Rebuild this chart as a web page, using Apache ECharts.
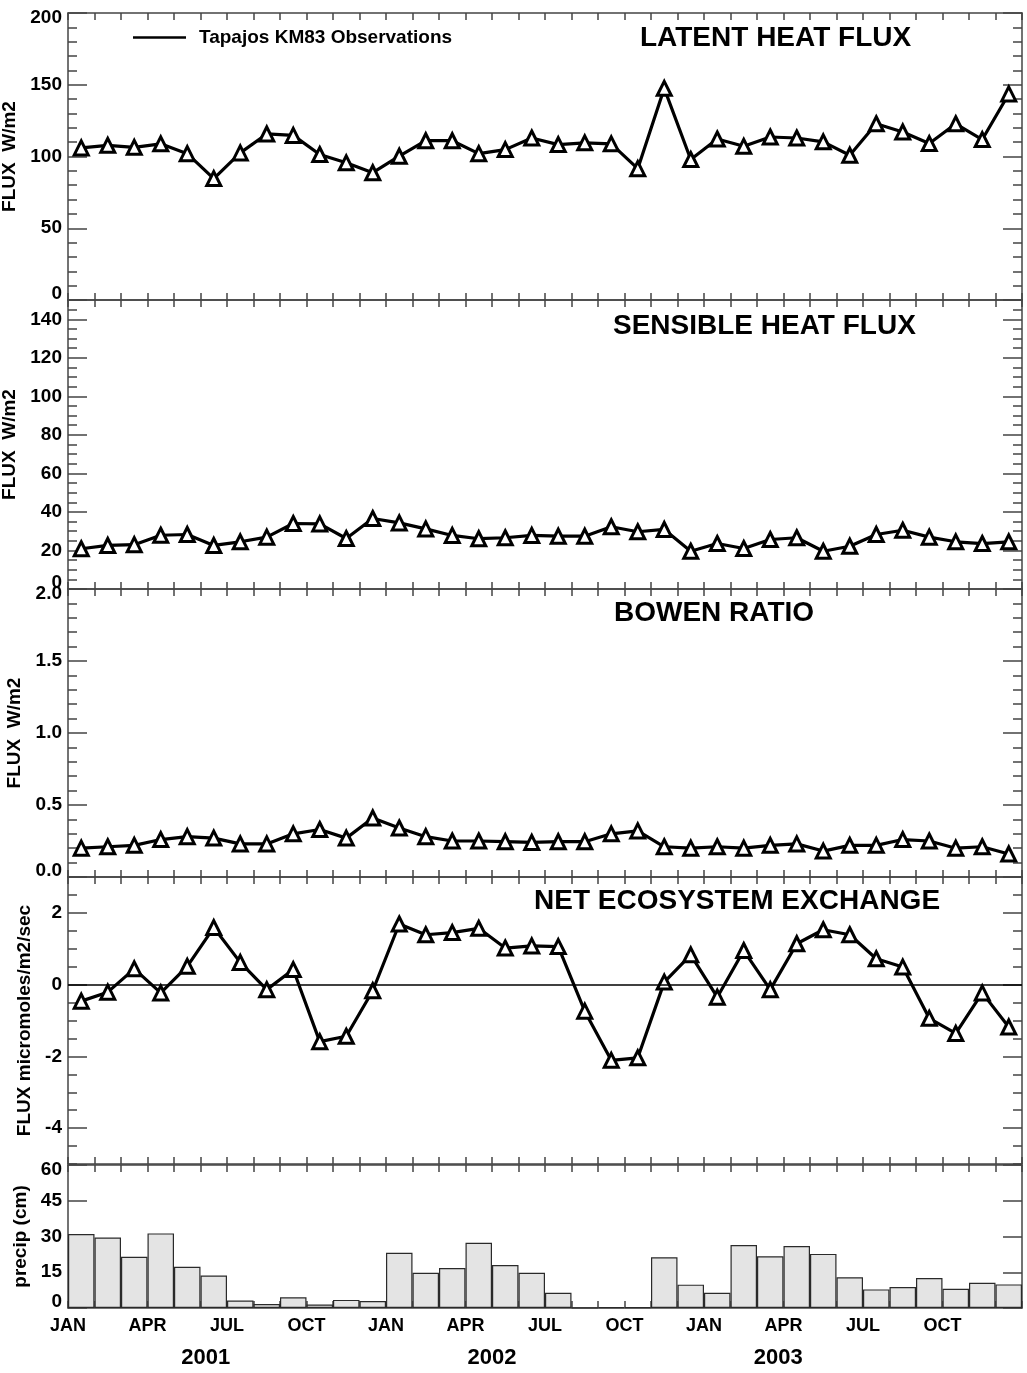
<!DOCTYPE html>
<html>
<head>
<meta charset="utf-8">
<script src="https://cdn.jsdelivr.net/npm/echarts@6/dist/echarts.min.js"></script>
<style>
  html, body { margin: 0; padding: 0; background: #fff; }
  #chart { width: 1027px; height: 1373px; }
</style>
</head>
<body>
<div id="chart"></div>
<script>
// Monthly categories, Jan 2001 - Dec 2003
const months = [
  '2001-01','2001-02','2001-03','2001-04','2001-05','2001-06','2001-07','2001-08','2001-09','2001-10','2001-11','2001-12',
  '2002-01','2002-02','2002-03','2002-04','2002-05','2002-06','2002-07','2002-08','2002-09','2002-10','2002-11','2002-12',
  '2003-01','2003-02','2003-03','2003-04','2003-05','2003-06','2003-07','2003-08','2003-09','2003-10','2003-11','2003-12'
];

// Tapajos KM83 monthly observations
const latentHeat = [106, 107.8, 106.4, 108.8, 102, 84.6, 102.5, 115.7, 114.7, 101.4, 95.6, 88.7,
                    100.2, 111, 111, 102, 104.8, 112.9, 108.3, 109.5, 108.8, 91.5, 147.5, 97.9,
                    112.2, 107.1, 113.6, 112.9, 110.2, 100.9, 122.8, 117.1, 109, 122.8, 111.8, 143.6];
const sensibleHeat = [20.9, 22.6, 23, 27.9, 28.3, 22.6, 24.5, 26.9, 34, 33.8, 26.2, 36.6,
                      34.3, 31.2, 27.8, 26.1, 26.6, 27.8, 27.4, 27.4, 32.3, 29.7, 30.9, 19.6,
                      23.6, 21, 25.7, 26.6, 19.6, 22.2, 28.3, 30.5, 26.9, 24.5, 23.6, 24.5];
const bowenRatio = [0.20, 0.21, 0.22, 0.26, 0.28, 0.27, 0.23, 0.23, 0.30, 0.33, 0.27, 0.41,
                    0.34, 0.28, 0.25, 0.25, 0.245, 0.24, 0.245, 0.245, 0.30, 0.32, 0.21, 0.20,
                    0.21, 0.20, 0.22, 0.23, 0.18, 0.22, 0.22, 0.26, 0.25, 0.20, 0.21, 0.16];
const netEcosystemExchange = [-0.46, -0.21, 0.44, -0.23, 0.51, 1.59, 0.62, -0.14, 0.42, -1.59, -1.44, -0.17,
                              1.69, 1.39, 1.45, 1.57, 1.02, 1.08, 1.06, -0.74, -2.11, -2.04, 0.07, 0.83,
                              -0.35, 0.95, -0.14, 1.14, 1.53, 1.39, 0.72, 0.49, -0.94, -1.36, -0.23, -1.18];
const precipitation = [31.0, 29.6, 21.5, 31.3, 17.3, 13.6, 3.1, 1.7, 4.5, 1.5, 3.4, 2.9,
                       23.2, 14.8, 16.8, 27.4, 18.0, 14.8, 6.4, 0.1, 0.3, 0.3, 21.3, 9.8,
                       6.4, 26.4, 21.7, 26.0, 22.7, 12.9, 7.8, 8.8, 12.6, 8.1, 10.6, 9.9];

// Labelled y ticks for each panel
const latentTicks = [0, 50, 100, 150, 200];
const sensibleTicks = [0, 20, 40, 60, 80, 100, 120, 140];
const bowenTicks = [0, 0.5, 1.0, 1.5, 2.0];
const neeTicks = [-4, -2, 0, 2];
const precipTicks = [0, 15, 30, 45, 60];

// Time axis labels (positions in months from Jan 2001)
const monthLabelPos = [0, 3, 6, 9, 12, 15, 18, 21, 24, 27, 30, 33];
const monthLabelText = ['JAN', 'APR', 'JUL', 'OCT'];
const yearLabelPos = [5.2, 16, 26.8];
const yearLabelText = ['2001', '2002', '2003'];

const legendName = 'Tapajos KM83 Observations';

// ---------------------------------------------------------------
const FONT = '"Liberation Sans", Arial, Helvetica, sans-serif';
const AXIS = '#444';
const axisLineStyle = { color: AXIS, width: 1.5 };

function minorTicks(min, max, step, majors) {
  const out = [];
  const n = Math.round((max - min) / step);
  for (let i = 0; i <= n; i++) {
    const v = +(min + i * step).toFixed(6);
    if (!majors.some(m => Math.abs(m - v) < 1e-9)) out.push(v);
  }
  return out;
}

const panels = [
  { data: latentHeat, kind: 'line', min: 0, max: 200, major: latentTicks, minorStep: 10,
    fmt: v => String(v), name: 'FLUX  W/m2', nameGap: 48,
    title: 'LATENT HEAT FLUX', titleLeft: 640, titleTop: 24, top: 13, height: 287 },
  { data: sensibleHeat, kind: 'line', min: 0, max: 150, major: sensibleTicks, minorStep: 5,
    fmt: v => String(v), name: 'FLUX  W/m2', nameGap: 48,
    title: 'SENSIBLE HEAT FLUX', titleLeft: 613, titleTop: 312, top: 300, height: 289 },
  { data: bowenRatio, kind: 'line', min: 0, max: 2, major: bowenTicks, minorStep: 0.1,
    fmt: v => v.toFixed(1), name: 'FLUX  W/m2', nameGap: 43,
    title: 'BOWEN RATIO', titleLeft: 614, titleTop: 599, top: 589, height: 288 },
  { data: netEcosystemExchange, kind: 'line', min: -5, max: 3, major: neeTicks, minorStep: 0.5,
    fmt: v => String(v), name: 'FLUX micromoles/m2/sec', nameGap: 33, zeroLine: true,
    title: 'NET ECOSYSTEM EXCHANGE', titleLeft: 534, titleTop: 887, top: 877, height: 287 },
  { data: precipitation, kind: 'bar', min: 0, max: 60, major: precipTicks, minorStep: null,
    fmt: v => String(v), name: 'precip (cm)', nameGap: 36,
    title: '', top: 1165, height: 143 }
];

const labelFont = { fontFamily: FONT, fontWeight: 'bold', fontSize: 19, color: '#000' };

const grids = [], xAxes = [], yAxes = [], series = [], titles = [];

panels.forEach((p, gi) => {
  grids.push({ left: 68, right: 5, top: p.top, height: p.height,
               containLabel: false, outerBoundsMode: 'none' });

  const xIndex = xAxes.length;
  ['bottom', 'top'].forEach(pos => {
    xAxes.push({
      type: 'category', gridIndex: gi, position: pos, data: months, boundaryGap: true,
      axisLine: { show: true, onZero: false, lineStyle: axisLineStyle },
      axisTick: { show: true, inside: true, length: 7, interval: 0, lineStyle: axisLineStyle },
      axisLabel: { show: false }, splitLine: { show: false }
    });
  });

  const minors = p.minorStep ? minorTicks(p.min, p.max, p.minorStep, p.major) : [];
  const yIndex = yAxes.length;
  ['left', 'right'].forEach(pos => {
    // labelled axis with long ticks
    yAxes.push({
      type: 'value', gridIndex: gi, position: pos, min: p.min, max: p.max,
      axisLine: { show: true, onZero: false, lineStyle: axisLineStyle },
      axisTick: { show: true, inside: true, length: 19, customValues: p.major, lineStyle: axisLineStyle },
      axisLabel: pos === 'left' ? {
        show: true, customValues: p.major, margin: 6,
        formatter: v => {
          const t = p.fmt(v);
          if (Math.abs(v - p.min) < 1e-9) return '{lo|' + t + '}';
          if (Math.abs(v - p.max) < 1e-9) return '{hi|' + t + '}';
          return '{n|' + t + '}';
        },
        rich: {
          n: labelFont,
          lo: Object.assign({}, labelFont, { padding: [0, 0, 13, 0] }),
          hi: Object.assign({}, labelFont, { padding: [10, 0, 0, 0] })
        }
      } : { show: false },
      splitLine: { show: false },
      name: pos === 'left' ? p.name : '',
      nameLocation: 'middle', nameGap: p.nameGap, nameRotate: 90,
      nameTextStyle: { fontFamily: FONT, fontWeight: 'bold', fontSize: 19, color: '#000' }
    });
    // short ticks
    yAxes.push({
      type: 'value', gridIndex: gi, position: pos, min: p.min, max: p.max,
      axisLine: { show: false },
      axisTick: { show: minors.length > 0, inside: true, length: 9,
                  customValues: minors.length ? minors : [p.min], lineStyle: axisLineStyle },
      axisLabel: { show: false }, splitLine: { show: false }
    });
  });

  if (p.kind === 'line') {
    const s = {
      type: 'line', name: gi === 0 ? legendName : 'series' + gi,
      xAxisIndex: xIndex, yAxisIndex: yIndex, data: p.data,
      symbol: 'triangle', symbolSize: 14, showAllSymbol: true,
      itemStyle: { color: '#fff', borderColor: '#000', borderWidth: 3 },
      lineStyle: { color: '#000', width: 3.2 },
      emphasis: { disabled: true }, z: 3
    };
    if (p.zeroLine) {
      s.markLine = {
        silent: true, symbol: 'none', label: { show: false },
        lineStyle: { color: '#000', width: 1.5, type: 'solid' },
        emphasis: { disabled: true },
        data: [{ yAxis: 0 }]
      };
    }
    series.push(s);
  } else {
    series.push({
      type: 'bar', name: 'precip', xAxisIndex: xIndex, yAxisIndex: yIndex, data: p.data,
      barWidth: '100%', barCategoryGap: '0%',
      itemStyle: { color: '#e4e4e4', borderColor: '#2a2a2a', borderWidth: 1.2 },
      emphasis: { disabled: true }
    });
  }

  if (p.title) {
    titles.push({
      text: p.title, left: p.titleLeft, top: p.titleTop, padding: 0,
      textStyle: { fontFamily: FONT, fontWeight: 'bold', fontSize: 28, color: '#000' }
    });
  }
});

// month and year labels beneath the precipitation panel
const lastGrid = panels.length - 1;
xAxes.push({
  type: 'value', gridIndex: lastGrid, position: 'bottom', min: 0, max: 36,
  axisLine: { show: false }, axisTick: { show: false }, splitLine: { show: false },
  axisLabel: {
    customValues: monthLabelPos, margin: 9,
    formatter: v => monthLabelText[Math.round(v / 3) % 4],
    fontFamily: FONT, fontWeight: 'bold', fontSize: 18, color: '#000'
  }
});
xAxes.push({
  type: 'value', gridIndex: lastGrid, position: 'bottom', min: 0, max: 36,
  axisLine: { show: false }, axisTick: { show: false }, splitLine: { show: false },
  axisLabel: {
    customValues: yearLabelPos, margin: 39,
    formatter: v => yearLabelText[yearLabelPos.findIndex(q => Math.abs(q - v) < 1e-6)],
    fontFamily: FONT, fontWeight: 'bold', fontSize: 22, color: '#000'
  }
});

const chart = echarts.init(document.getElementById('chart'), null, { renderer: 'canvas' });
chart.setOption({
  animation: false,
  backgroundColor: '#fff',
  title: titles,
  legend: {
    data: [legendName], left: 133, top: 28, padding: 0,
    icon: 'rect', itemWidth: 53, itemHeight: 2.5,
    itemStyle: { color: '#000', borderColor: '#000', borderWidth: 0 },
    textStyle: { fontFamily: FONT, fontWeight: 'bold', fontSize: 19, color: '#000', padding: [0, 0, 0, 8] },
    selectedMode: false
  },
  grid: grids,
  xAxis: xAxes,
  yAxis: yAxes,
  series: series
});
</script>
</body>
</html>
